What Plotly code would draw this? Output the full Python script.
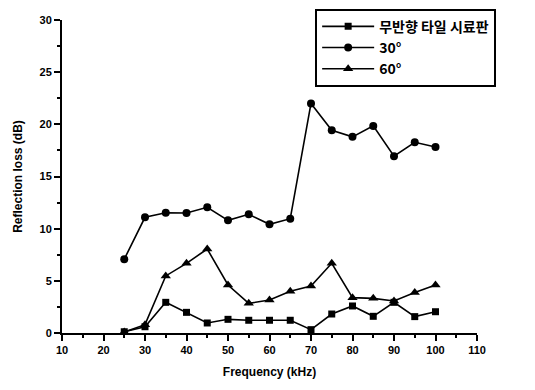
import plotly.graph_objects as go

freq = [25, 30, 35, 40, 45, 50, 55, 60, 65, 70, 75, 80, 85, 90, 95, 100]
tile = [0.12, 0.6, 2.94, 1.98, 0.96, 1.31, 1.22, 1.22, 1.22, 0.32, 1.82, 2.59, 1.6, 2.94, 1.57, 2.04]
deg30 = [7.07, 11.09, 11.53, 11.5, 12.05, 10.8, 11.38, 10.42, 10.96, 22.0, 19.43, 18.8, 19.85, 16.94, 18.28, 17.83]
deg60 = [0.1, 0.8, 5.47, 6.68, 8.05, 4.6, 2.84, 3.16, 4.0, 4.5, 6.68, 3.39, 3.32, 3.07, 3.87, 4.6]
names = ["무반향 타일 시료판", "30°", "60°"]
x_ticks = [10, 20, 30, 40, 50, 60, 70, 80, 90, 100, 110]
y_ticks = [0, 5, 10, 15, 20, 25, 30]

font_main = "Liberation Sans, Arial, Noto Sans CJK KR"

fig = go.Figure()
for ys, nm, sym, sz in [(tile, names[0], "square", 7), (deg30, names[1], "circle", 8), (deg60, names[2], "triangle-up", 9)]:
    fig.add_trace(go.Scatter(
        x=freq, y=ys, name=nm, mode="lines+markers",
        line=dict(color="black", width=1.6),
        marker=dict(symbol=sym, size=sz, color="black"),
    ))

axis_common = dict(
    showline=True, linecolor="black", linewidth=2, showgrid=False, zeroline=False,
    ticks="outside", ticklen=6, tickwidth=1.5, tickcolor="black",
    tickfont=dict(family=font_main, size=11, color="black", weight="bold"),
)
fig.update_xaxes(range=[10, 110], tickvals=x_ticks,
                 minor=dict(ticks="outside", ticklen=3, tickcolor="black", dtick=5, tick0=10),
                 title=dict(text="Frequency (kHz)", font=dict(family=font_main, size=12, color="black", weight="bold"), standoff=12),
                 **axis_common)
fig.update_yaxes(range=[0, 30], tickvals=y_ticks,
                 minor=dict(ticks="outside", ticklen=3, tickcolor="black", dtick=2.5, tick0=0),
                 title=dict(text="Reflection loss (dB)", font=dict(family=font_main, size=12, color="black", weight="bold"), standoff=14),
                 **axis_common)
fig.update_layout(
    width=527, height=382,
    margin=dict(l=54, r=58, t=12, b=57, autoexpand=False),
    paper_bgcolor="white", plot_bgcolor="white",
    legend=dict(x=0.61, y=1.036, xanchor="left", yanchor="top",
                bordercolor="black", borderwidth=2, bgcolor="white",
                font=dict(family="Noto Sans CJK KR, Liberation Sans", size=14, color="black", weight="bold"),
                itemwidth=52, tracegroupgap=0),
    showlegend=True,
)
fig.write_html("out.html")
